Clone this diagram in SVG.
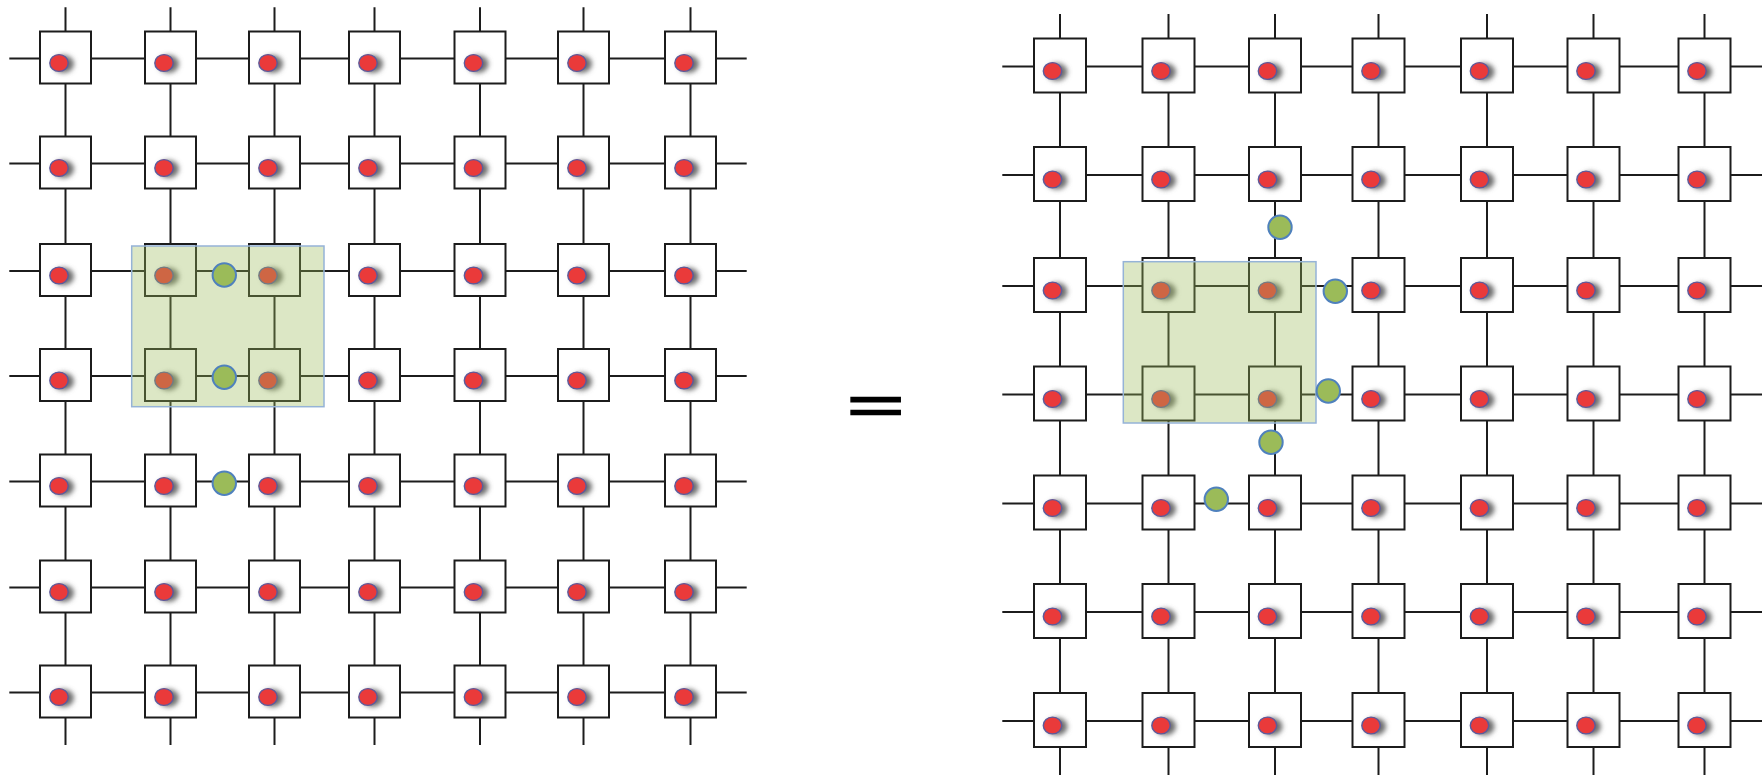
<svg xmlns="http://www.w3.org/2000/svg" xmlns:xlink="http://www.w3.org/1999/xlink" width="1763" height="776" viewBox="0 0 1763 776">
<style>
.ln{stroke:#1c1c1c;stroke-width:2;fill:none}
.bx{fill:#fff;stroke:#1c1c1c;stroke-width:2}
.hl{fill:#9bbb59;fill-opacity:0.35;stroke:#95b3d7;stroke-width:1.5}
.gc{fill:#9bbb59;stroke:#4f81bd;stroke-width:2}
.eq{font-family:"Liberation Sans",Arial,sans-serif;font-weight:bold;fill:#000;stroke:#000;stroke-width:1.5}
</style>
<defs>
<filter id="blur" x="-50%" y="-50%" width="200%" height="200%"><feGaussianBlur stdDeviation="2.8"/></filter>
<g id="dot">
<ellipse cx="4.5" cy="1" rx="10.5" ry="9" fill="#6e6e6e" filter="url(#blur)"/>
<ellipse cx="0" cy="0" rx="9.2" ry="8.4" fill="#ea3a3a" stroke="#5c5a9c" stroke-width="1.4"/>
</g>
<g id="nl"><rect class="bx" x="0" y="0" width="51" height="52"/><use xlink:href="#dot" x="19" y="31.5"/></g>
<g id="nr"><rect class="bx" x="0" y="0" width="52" height="54"/><use xlink:href="#dot" x="18.5" y="32.5"/></g>
</defs>
<rect width="1763" height="776" fill="#fff"/>
<g id="connectors">
<g id="left-connectors">
<line class="ln" x1="9.3" y1="58.5" x2="746.7" y2="58.5"/>
<line class="ln" x1="9.3" y1="163.5" x2="746.7" y2="163.5"/>
<line class="ln" x1="9.3" y1="271" x2="746.7" y2="271"/>
<line class="ln" x1="9.3" y1="376" x2="746.7" y2="376"/>
<line class="ln" x1="9.3" y1="481.5" x2="746.7" y2="481.5"/>
<line class="ln" x1="9.3" y1="587.5" x2="746.7" y2="587.5"/>
<line class="ln" x1="9.3" y1="692.5" x2="746.7" y2="692.5"/>
<line class="ln" x1="65.5" y1="7.3" x2="65.5" y2="745"/>
<line class="ln" x1="170.5" y1="7.3" x2="170.5" y2="745"/>
<line class="ln" x1="274.5" y1="7.3" x2="274.5" y2="745"/>
<line class="ln" x1="374.5" y1="7.3" x2="374.5" y2="745"/>
<line class="ln" x1="480" y1="7.3" x2="480" y2="745"/>
<line class="ln" x1="583.5" y1="7.3" x2="583.5" y2="745"/>
<line class="ln" x1="690.5" y1="7.3" x2="690.5" y2="745"/>
</g>
<g id="right-connectors">
<line class="ln" x1="1002.3" y1="66.5" x2="1762" y2="66.5"/>
<line class="ln" x1="1002.3" y1="175" x2="1762" y2="175"/>
<line class="ln" x1="1002.3" y1="286" x2="1762" y2="286"/>
<line class="ln" x1="1002.3" y1="394.5" x2="1762" y2="394.5"/>
<line class="ln" x1="1002.3" y1="503.5" x2="1762" y2="503.5"/>
<line class="ln" x1="1002.3" y1="612" x2="1762" y2="612"/>
<line class="ln" x1="1002.3" y1="721" x2="1762" y2="721"/>
<line class="ln" x1="1060" y1="14" x2="1060" y2="775"/>
<line class="ln" x1="1168.5" y1="14" x2="1168.5" y2="775"/>
<line class="ln" x1="1275" y1="14" x2="1275" y2="775"/>
<line class="ln" x1="1378.5" y1="14" x2="1378.5" y2="775"/>
<line class="ln" x1="1487" y1="14" x2="1487" y2="775"/>
<line class="ln" x1="1593.5" y1="14" x2="1593.5" y2="775"/>
<line class="ln" x1="1704.5" y1="14" x2="1704.5" y2="775"/>
</g>
</g>
<g id="left-grid">
<g id="L11"><use xlink:href="#nl" x="40" y="31.5"/></g>
<g id="L12"><use xlink:href="#nl" x="145" y="31.5"/></g>
<g id="L13"><use xlink:href="#nl" x="249" y="31.5"/></g>
<g id="L14"><use xlink:href="#nl" x="349" y="31.5"/></g>
<g id="L15"><use xlink:href="#nl" x="454.5" y="31.5"/></g>
<g id="L16"><use xlink:href="#nl" x="558" y="31.5"/></g>
<g id="L17"><use xlink:href="#nl" x="665" y="31.5"/></g>
<g id="L21"><use xlink:href="#nl" x="40" y="136.5"/></g>
<g id="L22"><use xlink:href="#nl" x="145" y="136.5"/></g>
<g id="L23"><use xlink:href="#nl" x="249" y="136.5"/></g>
<g id="L24"><use xlink:href="#nl" x="349" y="136.5"/></g>
<g id="L25"><use xlink:href="#nl" x="454.5" y="136.5"/></g>
<g id="L26"><use xlink:href="#nl" x="558" y="136.5"/></g>
<g id="L27"><use xlink:href="#nl" x="665" y="136.5"/></g>
<g id="L31"><use xlink:href="#nl" x="40" y="244"/></g>
<g id="L32"><use xlink:href="#nl" x="145" y="244"/></g>
<g id="L33"><use xlink:href="#nl" x="249" y="244"/></g>
<g id="L34"><use xlink:href="#nl" x="349" y="244"/></g>
<g id="L35"><use xlink:href="#nl" x="454.5" y="244"/></g>
<g id="L36"><use xlink:href="#nl" x="558" y="244"/></g>
<g id="L37"><use xlink:href="#nl" x="665" y="244"/></g>
<g id="L41"><use xlink:href="#nl" x="40" y="349"/></g>
<g id="L42"><use xlink:href="#nl" x="145" y="349"/></g>
<g id="L43"><use xlink:href="#nl" x="249" y="349"/></g>
<g id="L44"><use xlink:href="#nl" x="349" y="349"/></g>
<g id="L45"><use xlink:href="#nl" x="454.5" y="349"/></g>
<g id="L46"><use xlink:href="#nl" x="558" y="349"/></g>
<g id="L47"><use xlink:href="#nl" x="665" y="349"/></g>
<g id="L51"><use xlink:href="#nl" x="40" y="454.5"/></g>
<g id="L52"><use xlink:href="#nl" x="145" y="454.5"/></g>
<g id="L53"><use xlink:href="#nl" x="249" y="454.5"/></g>
<g id="L54"><use xlink:href="#nl" x="349" y="454.5"/></g>
<g id="L55"><use xlink:href="#nl" x="454.5" y="454.5"/></g>
<g id="L56"><use xlink:href="#nl" x="558" y="454.5"/></g>
<g id="L57"><use xlink:href="#nl" x="665" y="454.5"/></g>
<g id="L61"><use xlink:href="#nl" x="40" y="560.5"/></g>
<g id="L62"><use xlink:href="#nl" x="145" y="560.5"/></g>
<g id="L63"><use xlink:href="#nl" x="249" y="560.5"/></g>
<g id="L64"><use xlink:href="#nl" x="349" y="560.5"/></g>
<g id="L65"><use xlink:href="#nl" x="454.5" y="560.5"/></g>
<g id="L66"><use xlink:href="#nl" x="558" y="560.5"/></g>
<g id="L67"><use xlink:href="#nl" x="665" y="560.5"/></g>
<g id="L71"><use xlink:href="#nl" x="40" y="665.5"/></g>
<g id="L72"><use xlink:href="#nl" x="145" y="665.5"/></g>
<g id="L73"><use xlink:href="#nl" x="249" y="665.5"/></g>
<g id="L74"><use xlink:href="#nl" x="349" y="665.5"/></g>
<g id="L75"><use xlink:href="#nl" x="454.5" y="665.5"/></g>
<g id="L76"><use xlink:href="#nl" x="558" y="665.5"/></g>
<g id="L77"><use xlink:href="#nl" x="665" y="665.5"/></g>
</g>
<g id="right-grid">
<g id="R11"><use xlink:href="#nr" x="1034" y="38.5"/></g>
<g id="R12"><use xlink:href="#nr" x="1142.5" y="38.5"/></g>
<g id="R13"><use xlink:href="#nr" x="1249" y="38.5"/></g>
<g id="R14"><use xlink:href="#nr" x="1352.5" y="38.5"/></g>
<g id="R15"><use xlink:href="#nr" x="1461" y="38.5"/></g>
<g id="R16"><use xlink:href="#nr" x="1567.5" y="38.5"/></g>
<g id="R17"><use xlink:href="#nr" x="1678.5" y="38.5"/></g>
<g id="R21"><use xlink:href="#nr" x="1034" y="147"/></g>
<g id="R22"><use xlink:href="#nr" x="1142.5" y="147"/></g>
<g id="R23"><use xlink:href="#nr" x="1249" y="147"/></g>
<g id="R24"><use xlink:href="#nr" x="1352.5" y="147"/></g>
<g id="R25"><use xlink:href="#nr" x="1461" y="147"/></g>
<g id="R26"><use xlink:href="#nr" x="1567.5" y="147"/></g>
<g id="R27"><use xlink:href="#nr" x="1678.5" y="147"/></g>
<g id="R31"><use xlink:href="#nr" x="1034" y="258"/></g>
<g id="R32"><use xlink:href="#nr" x="1142.5" y="258"/></g>
<g id="R33"><use xlink:href="#nr" x="1249" y="258"/></g>
<g id="R34"><use xlink:href="#nr" x="1352.5" y="258"/></g>
<g id="R35"><use xlink:href="#nr" x="1461" y="258"/></g>
<g id="R36"><use xlink:href="#nr" x="1567.5" y="258"/></g>
<g id="R37"><use xlink:href="#nr" x="1678.5" y="258"/></g>
<g id="R41"><use xlink:href="#nr" x="1034" y="366.5"/></g>
<g id="R42"><use xlink:href="#nr" x="1142.5" y="366.5"/></g>
<g id="R43"><use xlink:href="#nr" x="1249" y="366.5"/></g>
<g id="R44"><use xlink:href="#nr" x="1352.5" y="366.5"/></g>
<g id="R45"><use xlink:href="#nr" x="1461" y="366.5"/></g>
<g id="R46"><use xlink:href="#nr" x="1567.5" y="366.5"/></g>
<g id="R47"><use xlink:href="#nr" x="1678.5" y="366.5"/></g>
<g id="R51"><use xlink:href="#nr" x="1034" y="475.5"/></g>
<g id="R52"><use xlink:href="#nr" x="1142.5" y="475.5"/></g>
<g id="R53"><use xlink:href="#nr" x="1249" y="475.5"/></g>
<g id="R54"><use xlink:href="#nr" x="1352.5" y="475.5"/></g>
<g id="R55"><use xlink:href="#nr" x="1461" y="475.5"/></g>
<g id="R56"><use xlink:href="#nr" x="1567.5" y="475.5"/></g>
<g id="R57"><use xlink:href="#nr" x="1678.5" y="475.5"/></g>
<g id="R61"><use xlink:href="#nr" x="1034" y="584"/></g>
<g id="R62"><use xlink:href="#nr" x="1142.5" y="584"/></g>
<g id="R63"><use xlink:href="#nr" x="1249" y="584"/></g>
<g id="R64"><use xlink:href="#nr" x="1352.5" y="584"/></g>
<g id="R65"><use xlink:href="#nr" x="1461" y="584"/></g>
<g id="R66"><use xlink:href="#nr" x="1567.5" y="584"/></g>
<g id="R67"><use xlink:href="#nr" x="1678.5" y="584"/></g>
<g id="R71"><use xlink:href="#nr" x="1034" y="693"/></g>
<g id="R72"><use xlink:href="#nr" x="1142.5" y="693"/></g>
<g id="R73"><use xlink:href="#nr" x="1249" y="693"/></g>
<g id="R74"><use xlink:href="#nr" x="1352.5" y="693"/></g>
<g id="R75"><use xlink:href="#nr" x="1461" y="693"/></g>
<g id="R76"><use xlink:href="#nr" x="1567.5" y="693"/></g>
<g id="R77"><use xlink:href="#nr" x="1678.5" y="693"/></g>
</g>
<g id="left-highlight"><rect class="hl" x="131.7" y="246" width="192.3" height="160.7"/></g>
<g id="right-highlight"><rect class="hl" x="1123.3" y="261.7" width="192.7" height="161.3"/></g>
<g id="left-markers">
<circle class="gc" cx="224.3" cy="275" r="11.7"/>
<circle class="gc" cx="224.3" cy="377.3" r="11.7"/>
<circle class="gc" cx="224.3" cy="483.3" r="11.7"/>
</g>
<g id="right-markers">
<circle class="gc" cx="1280" cy="227.3" r="11.7"/>
<circle class="gc" cx="1335.3" cy="291.3" r="11.7"/>
<circle class="gc" cx="1328.3" cy="391" r="11.7"/>
<circle class="gc" cx="1271" cy="442.3" r="11.7"/>
<circle class="gc" cx="1216.3" cy="499.3" r="11.7"/>
</g>
<g id="equals"><text class="eq" transform="matrix(1 0 0 0.48 875.5 422)" font-size="98" text-anchor="middle">=</text></g>
</svg>
